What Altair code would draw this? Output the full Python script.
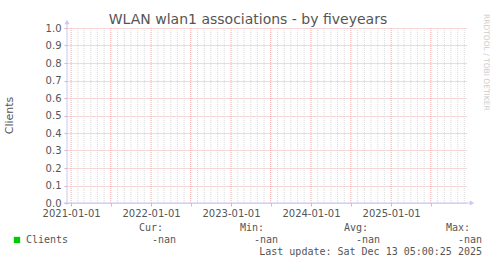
import altair as alt
import pandas as pd

# ---- data ----
title_text = "WLAN wlan1 associations - by fiveyears"
y_title = "Clients"
series_name = "Clients"
series_dates = ["2021-01-01", "2022-01-01", "2023-01-01", "2024-01-01", "2025-01-01"]
series_values = [None, None, None, None, None]   # all -nan
stat_names = ["Cur:", "Min:", "Avg:", "Max:"]
stat_values = ["-nan", "-nan", "-nan", "-nan"]
y_ticks = [0.0, 0.1, 0.2, 0.3, 0.4, 0.5, 0.6, 0.7, 0.8, 0.9, 1.0]
last_update = "Last update: Sat Dec 13 05:00:25 2025"
credit = "RRDTOOL / TOBI OETIKER"

W, H = 400, 175
FONT = "DejaVu Sans"
MONO = "DejaVu Sans Mono"
TXT = "#555555"
AXC = "#c8c8f0"
MGRID = "#f2aaaa"
GRID = "#d9d9d9"

months = pd.date_range("2021-01-01", "2025-12-01", freq="MS")
major = [d for d in months if d.month in (1, 7)]
minor = [d for d in months if d.month not in (1, 7)]
major_df = pd.DataFrame({"d": [d.strftime("%Y-%m-%d") for d in major]})
minor_df = pd.DataFrame({"d": [d.strftime("%Y-%m-%d") for d in minor]})
series_df = pd.DataFrame({"d": series_dates, "v": series_values})

xscale = alt.Scale(domain=[alt.DateTime(year=2020, month=12, date=13, hours=5, minutes=0, seconds=25),
                           alt.DateTime(year=2025, month=12, date=13, hours=5, minutes=0, seconds=25)])
yscale = alt.Scale(domain=[0, 1])

xaxis = alt.Axis(
    values=[alt.DateTime(year=d.year, month=d.month, date=1) for d in major],
    labelExpr="month(datum.value) == 0 ? timeFormat(datum.value, '%Y-%m-%d') : ''",
    grid=False, domain=False, tickColor=MGRID, tickSize=3, labelPadding=2,
    labelFont=FONT, labelFontSize=10, labelColor=TXT, title=None, labelFlush=False,
    labelOverlap=False,
)
yaxis = alt.Axis(
    values=y_ticks, format=".1f", grid=True, gridColor=MGRID, gridDash=[1, 1],
    domain=False, tickColor=MGRID, tickSize=3, labelPadding=3,
    labelFont=FONT, labelFontSize=10, labelColor=TXT, title=None,
)

X = lambda: alt.X("d:T", scale=xscale, axis=xaxis)

minor_rules = alt.Chart(minor_df).mark_rule(color=GRID, strokeDash=[1, 1], strokeWidth=1).encode(x=X())
major_rules = alt.Chart(major_df).mark_rule(color=MGRID, strokeDash=[1, 1], strokeWidth=1).encode(x=X())

line = alt.Chart(series_df).mark_line(color="#00cc00").encode(
    x=X(), y=alt.Y("v:Q", scale=yscale, axis=yaxis)
)

ann = pd.DataFrame({"k": [0]})
base = alt.Chart(ann)

yline = base.mark_rule(color=AXC).encode(x=alt.value(0), y=alt.value(-6), y2=alt.value(H + 2))
xline = base.mark_rule(color=AXC).encode(x=alt.value(-3), x2=alt.value(W + 5), y=alt.value(H))
yarrow = base.mark_point(shape="triangle-up", filled=True, color=AXC, size=25, opacity=1).encode(
    x=alt.value(0), y=alt.value(-6))
xarrow = base.mark_point(shape="triangle-right", filled=True, color=AXC, size=25, opacity=1).encode(
    x=alt.value(W + 5), y=alt.value(H))

title_t = base.mark_text(text=title_text, font=FONT, fontSize=14, color=TXT,
                         align="center", baseline="alphabetic").encode(x=alt.value(181), y=alt.value(-4))
ytitle = base.mark_text(text=y_title, font=FONT, fontSize=11, color=TXT, angle=270,
                        align="center", baseline="middle").encode(x=alt.value(-57), y=alt.value(H / 2))
credit_t = base.mark_text(text=credit, font=FONT, fontSize=7.5, color="#cccccc", angle=90,
                          align="left", baseline="middle").encode(x=alt.value(419), y=alt.value(-14))

swatch = base.mark_square(color="#00cc00", size=40, opacity=1).encode(x=alt.value(-50), y=alt.value(212))
sname = base.mark_text(text=series_name, font=MONO, fontSize=10, color=TXT, align="left",
                       baseline="middle").encode(x=alt.value(-41), y=alt.value(212))

stat_x = [96, 197, 301, 403]
val_x = [109, 211, 313, 415]
stat_df = pd.DataFrame({"name": stat_names, "val": stat_values, "sx": stat_x, "vx": val_x})
names_t = alt.Chart(stat_df).mark_text(font=MONO, fontSize=10, color=TXT, align="right",
                                       baseline="middle").encode(
    x=alt.X("sx:Q", scale=None), y=alt.value(200), text="name:N")
vals_t = alt.Chart(stat_df).mark_text(font=MONO, fontSize=10, color=TXT, align="right",
                                      baseline="middle").encode(
    x=alt.X("vx:Q", scale=None), y=alt.value(212), text="val:N")
upd = base.mark_text(text=last_update, font=MONO, fontSize=10, color=TXT, align="right",
                     baseline="middle").encode(x=alt.value(415), y=alt.value(224))

chart = alt.layer(
    minor_rules, major_rules, line, yline, xline, yarrow, xarrow,
    title_t, ytitle, credit_t, swatch, sname, names_t, vals_t, upd,
).properties(
    width=W, height=H,
    autosize=alt.AutoSizeParams(type="none"),
    padding={"left": 67, "top": 28, "right": 30, "bottom": 61},
    background="white",
).configure_view(stroke=None)

chart.save("out.html", embed_options={"renderer": "svg", "actions": False})
